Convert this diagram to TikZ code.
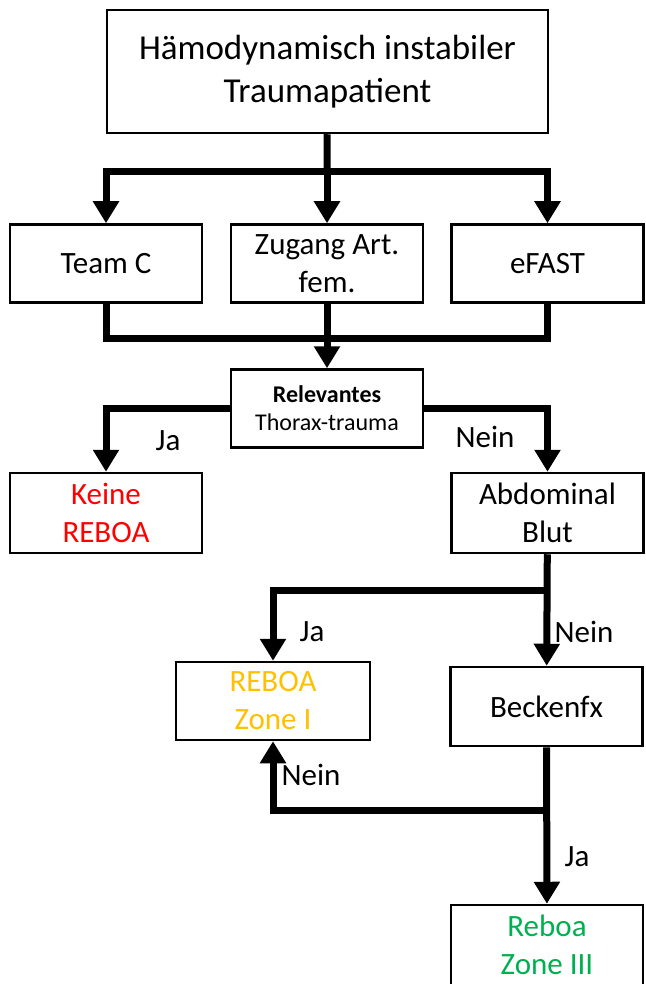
\documentclass[tikz,border=0pt]{standalone}
\usepackage{fontspec}
\setmainfont{Carlito}
\usetikzlibrary{arrows.meta}
\definecolor{rebred}{HTML}{FF0000}
\definecolor{rebgold}{HTML}{FFC000}
\definecolor{rebgreen}{HTML}{00B050}
\tikzset{
  box/.style={draw, line width=2.5pt, minimum width=192pt, minimum height=78pt,
    inner sep=0pt, align=center, font=\fontsize{31}{38}\selectfont},
  conn/.style={line width=7pt},
  arr/.style={conn, -{Triangle[length=22pt,width=25pt]}},
  lbl/.style={font=\fontsize{31}{38}\selectfont, inner sep=0pt}
}
\begin{document}
\begin{tikzpicture}[x=1pt,y=-1pt]
\useasboundingbox (0,0) rectangle (645,984);
%%% boxes
\node[box, minimum width=441pt, minimum height=123pt, font=\fontsize{35}{43}\selectfont] (patient) at (327.5,71.5) {Hämodynamisch instabiler\\Traumapatient};
\node[box] (teamc) at (106,263.5) {Team C};
\node[box] (zugang) at (327,263.5) {Zugang Art.\\fem.};
\node[box] (efast) at (547.5,263.5) {eFAST};
\node[box, font=\fontsize{24}{28}\selectfont] (thorax) at (327,408.5) {\textbf{Relevantes}\\Thorax-trauma};
\node[box, minimum height=80pt, text=rebred] (keine) at (106,513) {Keine\\REBOA};
\node[box, minimum height=80pt] (abdomen) at (547.5,513) {Abdominal\\Blut};
\node[box, minimum width=194pt, text=rebgold] (zoneone) at (273,701) {REBOA\\Zone I};
\node[box, minimum height=79pt] (becken) at (546.5,706.5) {Beckenfx};
\node[box, minimum height=80pt, text=rebgreen] (zonethree) at (547,945) {Reboa\\Zone III};
%%% forks
\coordinate (forkA) at (327,172);
\coordinate (joinA) at (327,338);
\coordinate (forkB) at (547,590);
\coordinate (forkC) at (547,810);
%%% first round
\draw[conn] (patient) -- (forkA);
\draw[arr] (forkA) -| (teamc);
\draw[arr] (forkA) -- (zugang);
\draw[arr] (forkA) -| (efast);
\draw[conn] (teamc) |- (joinA);
\draw[conn] (efast) |- (joinA);
\draw[arr] (zugang) -- (thorax);
%%% thorax
\draw[arr] (thorax) -| (keine);
\draw[arr] (thorax) -| (abdomen);
\node[lbl] (jaA) at (168,441) {Ja};
\node[lbl] (neinA) at (485,437) {Nein};
%%% abdomen
\draw[arr] (abdomen) -- (becken);
\draw[arr] (forkB) -| (zoneone);
\node[lbl] (jaB) at (312,632) {Ja};
\node[lbl] (neinB) at (584,632) {Nein};
%%% becken
\draw[arr] (becken) -- (zonethree);
\draw[arr] (forkC) -| (zoneone);
\node[lbl] (neinC) at (311,775) {Nein};
\node[lbl] (jaC) at (577,857) {Ja};
\end{tikzpicture}
\end{document}
